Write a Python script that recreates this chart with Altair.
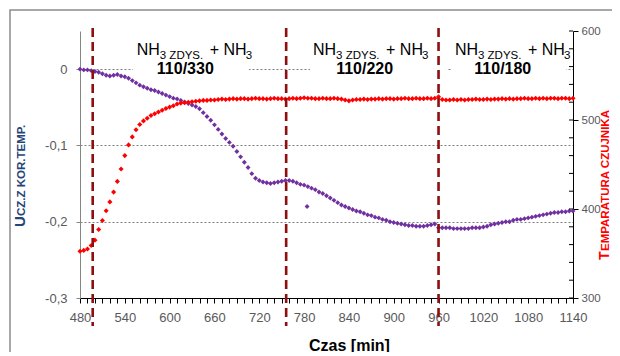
import altair as alt
import pandas as pd

# ---------------- data ----------------
minutes = list(range(480, 1141, 5))

ucz = [
    0.000, -0.001, -0.001, -0.002, -0.003, -0.004, -0.006, -0.008, -0.009, -0.008, -0.007, -0.009,
    -0.010, -0.012, -0.015, -0.018, -0.021, -0.023, -0.025, -0.027, -0.028, -0.030, -0.032, -0.034,
    -0.036, -0.038, -0.039, -0.041, -0.043, -0.045, -0.047, -0.049, -0.052, -0.057, -0.062, -0.067,
    -0.073, -0.079, -0.085, -0.091, -0.096, -0.101, -0.108, -0.115, -0.122, -0.129, -0.137, -0.143,
    -0.146, -0.148, -0.149, -0.150, -0.149, -0.148, -0.147, -0.146, -0.146, -0.147, -0.149, -0.151,
    -0.152, -0.154, -0.156, -0.158, -0.161, -0.163, -0.166, -0.169, -0.172, -0.175, -0.178, -0.180,
    -0.182, -0.184, -0.186, -0.187, -0.189, -0.191, -0.192, -0.194, -0.195, -0.197, -0.198, -0.200,
    -0.201, -0.202, -0.203, -0.204, -0.205, -0.205, -0.206, -0.206, -0.206, -0.205, -0.204, -0.203,
    -0.208, -0.208, -0.208, -0.208, -0.209, -0.209, -0.209, -0.209, -0.209, -0.208, -0.208, -0.208,
    -0.207, -0.206, -0.204, -0.203, -0.202, -0.201, -0.200, -0.200, -0.198, -0.197, -0.197, -0.196,
    -0.195, -0.194, -0.193, -0.192, -0.191, -0.190, -0.189, -0.188, -0.188, -0.187, -0.187, -0.186,
    -0.186,
]

temp = [
    352.5, 353.5, 355, 359, 365, 377, 387, 398, 408, 419, 431, 445,
    460, 472, 481, 489, 495, 499, 502, 505, 507, 509, 511, 513,
    514.5, 516, 518, 519, 519.5, 520, 520.5, 521, 521.5, 522, 522, 522.5,
    522.5, 523, 523.5, 523, 523.5, 524, 523.5, 524, 524, 523.5, 524, 524.5,
    524, 524, 523.5, 524, 524.5, 524, 524, 523.5, 524, 524.5, 524, 524.5,
    525, 524.5, 524.5, 524, 524, 524.5, 524, 524, 524.5, 524, 523.5, 522.5,
    521.5, 522.5, 523, 523, 523.5, 523, 523.5, 523.5, 524, 523.5, 524, 524,
    523.5, 524, 524, 524.5, 524, 524, 524.5, 524, 524, 524.5, 524, 524.5,
    526, 523, 522.5, 522.5, 523, 522.5, 523, 522.5, 523, 523, 523.5, 523,
    523, 523.5, 523, 523.5, 523.5, 524, 523.5, 524, 523.5, 524, 524, 524.5,
    524, 524, 524.5, 524, 524.5, 524, 524.5, 524.5, 524, 524.5, 524.5, 524,
    524.5,
]

outlier_t = [784]
outlier_v = [-0.180]

switch_t = [497, 756, 960]

ann_start = [556, 792, 982]
ann_center = [621, 861, 1046]
ann_ratio = ["110/330", "110/220", "110/180"]
box_t0 = [551, 788, 978]
box_t1 = [706, 971, 1131]

x_ticks = list(range(480, 1141, 10))
left_ticks = [-0.3, -0.2, -0.1, 0]
right_ticks = [300, 400, 500, 600]
right_minor = list(range(300, 601, 20))

assert len(ucz) == len(minutes) and len(temp) == len(minutes)

# ---------------- layout / style ----------------
W, H = 493, 267
XD = [480, 1140]
LD = [-0.3, 0.05]
RD = [300, 600]
FONT = "Liberation Sans"
PURPLE = "#7030A0"
RED = "#FF0000"
DASH = "#8E0F0F"

purple_df = pd.DataFrame({"t": minutes + outlier_t, "v": ucz + outlier_v})
red_df = pd.DataFrame({"t": minutes, "T": temp})
switch_df = pd.DataFrame({"t": switch_t})
ann_df = pd.DataFrame({
    "ts": ann_start, "tc": ann_center, "ratio": ann_ratio,
    "v1": [0.019] * 3, "v2": [-0.007] * 3,
})
box_df = pd.DataFrame({"t0": box_t0, "t1": box_t1, "v0": [-0.005] * 3, "v1": [0.046] * 3})
minor_df = pd.DataFrame({"T": right_minor})
one = pd.DataFrame({"k": [0]})

XSCALE = alt.Scale(domain=XD, nice=False, zero=False)
LSCALE = alt.Scale(domain=LD, nice=False, zero=False)
RSCALE = alt.Scale(domain=RD, nice=False, zero=False)

x_axis = alt.Axis(
    values=x_ticks,
    labelExpr="datum.value % 60 == 0 ? datum.label : ''",
    format="d", tickSize=5, tickColor="black", domainColor="black",
    labelColor="#595959", labelFontSize=13, labelFont=FONT, labelPadding=8,
    labelFlush=False, labelOverlap=False, grid=False,
    title="Czas [min]", titleFont=FONT, titleFontSize=16, titleFontWeight="bold",
    titleColor="black", titleX=269, titleY=52, titleAlign="center",
    titleBaseline="alphabetic", titleAnchor="start",
)

left_axis = alt.Axis(
    values=left_ticks,
    labelExpr="replace(toString(datum.value), '.', ',')",
    tickSize=4, tickColor="#868686", domainColor="#868686",
    labelColor="#595959", labelFontSize=13, labelFont=FONT, labelPadding=9,
    grid=True, gridColor="#7f7f7f", gridDash=[2, 2],
    gridOpacity={"condition": {"test": "datum.value < -0.29", "value": 0}, "value": 1},
    title=None,
)

right_axis = alt.Axis(
    orient="right", values=right_ticks,
    tickSize=5, tickColor="black", domainColor="black",
    labelColor="#595959", labelFontSize=11.5, labelFont=FONT, labelPadding=3,
    grid=False, title=None,
)

# ---------------- group 1 : frame, boxes, purple series (left axis, x axis) ----------------
frame = alt.Chart(one).mark_rect(fillOpacity=0, stroke="#8c8c8c", strokeWidth=1.5).encode(
    x=alt.value(-70), x2=alt.value(560), y=alt.value(-21), y2=alt.value(340)
)
boxes = alt.Chart(box_df).mark_rect(color="white").encode(
    x=alt.X("t0:Q", scale=XSCALE, axis=x_axis), x2="t1",
    y=alt.Y("v0:Q", scale=LSCALE, axis=left_axis), y2="v1"
)
purple = alt.Chart(purple_df).mark_point(
    shape="diamond", filled=True, size=24, color=PURPLE, opacity=1
).encode(
    x=alt.X("t:Q", scale=XSCALE, axis=x_axis),
    y=alt.Y("v:Q", scale=LSCALE, axis=left_axis),
)

g1 = alt.layer(frame, boxes, purple)

# ---------------- group 2 : red series on right axis ----------------
red = alt.Chart(red_df).mark_point(
    shape="diamond", filled=True, size=26, color=RED, opacity=1
).encode(
    x=alt.X("t:Q", scale=XSCALE, axis=x_axis),
    y=alt.Y("T:Q", scale=RSCALE, axis=right_axis),
)
minor = alt.Chart(minor_df).mark_rule(color="black", strokeWidth=1).encode(
    y=alt.Y("T:Q", scale=RSCALE, axis=right_axis), x=alt.value(W - 4), x2=alt.value(W)
)
g2 = alt.layer(red, minor)

# ---------------- group 3 : switch lines, annotations, axis titles ----------------
rules = alt.Chart(switch_df).mark_rule(color=DASH, strokeWidth=2.6, strokeDash=[9, 5]).encode(
    x=alt.X("t:Q", scale=XSCALE, axis=x_axis), y=alt.value(-3), y2=alt.value(295)
)


def piece(text, dx, size, dy=0):
    return alt.Chart(ann_df).mark_text(
        text=text, align="left", baseline="alphabetic", dx=dx, dy=dy,
        fontSize=size, font=FONT, color="black"
    ).encode(
        x=alt.X("ts:Q", scale=XSCALE, axis=x_axis),
        y=alt.Y("v1:Q", scale=LSCALE, axis=None),
    )


p1 = piece("NH", 0, 16)
p2 = piece("3 ZDYS.", 23, 11.5, 4.5)
p3 = piece("+ NH", 73, 16)
p4 = piece("3", 109, 11.5, 4.5)
ratio = alt.Chart(ann_df).mark_text(
    align="center", baseline="alphabetic", fontSize=16, fontWeight="bold",
    font=FONT, color="black"
).encode(
    x=alt.X("tc:Q", scale=XSCALE, axis=x_axis),
    y=alt.Y("v2:Q", scale=LSCALE, axis=None),
    text="ratio:N",
)

lt1 = alt.Chart(one).mark_text(
    text="U", angle=270, align="left", baseline="alphabetic", fontSize=15,
    fontWeight="bold", font=FONT, color="#254577"
).encode(x=alt.value(-55), y=alt.value(196))
lt2 = alt.Chart(one).mark_text(
    text="CZ.Z KOR.TEMP.", angle=270, align="left", baseline="alphabetic", fontSize=11.5,
    fontWeight="bold", font=FONT, color="#254577"
).encode(x=alt.value(-55), y=alt.value(185))
rt1 = alt.Chart(one).mark_text(
    text="T", angle=270, align="left", baseline="alphabetic", fontSize=14,
    fontWeight="bold", font=FONT, color=RED
).encode(x=alt.value(529), y=alt.value(229))
rt2 = alt.Chart(one).mark_text(
    text="EMPARATURA CZUJNIKA", angle=270, align="left", baseline="alphabetic", fontSize=11.5,
    fontWeight="bold", font=FONT, color=RED
).encode(x=alt.value(529), y=alt.value(220))

g3 = alt.layer(rules, p1, p2, p3, p4, ratio, lt1, lt2, rt1, rt2)

chart = alt.layer(g1, g2, g3).resolve_scale(y="independent").properties(
    width=W, height=H,
    autosize=alt.AutoSizeParams(type="none"),
    padding={"left": 72, "top": 23, "right": 39, "bottom": 54},
    background="white",
).configure_view(stroke=None)

chart.save("out.html", embed_options={"renderer": "svg", "actions": False})
